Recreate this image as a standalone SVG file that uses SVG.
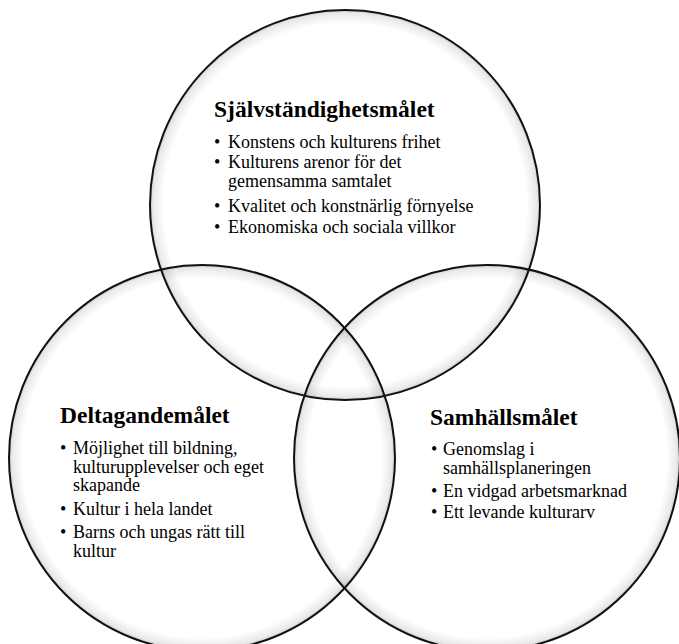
<svg xmlns="http://www.w3.org/2000/svg" width="679" height="644" viewBox="0 0 679 644">
<defs>
<radialGradient id="glow" cx="50%" cy="50%" r="50%">
<stop offset="0" stop-color="#000" stop-opacity="0"/>
<stop offset="0.93" stop-color="#000" stop-opacity="0"/>
<stop offset="0.985" stop-color="#000" stop-opacity="0.09"/>
<stop offset="1" stop-color="#000" stop-opacity="0.22"/>
</radialGradient>
<style>
.c{fill:url(#glow);stroke:#111;stroke-width:2}
.t{font-family:"Liberation Serif","Times New Roman",serif;font-size:23.5px;font-weight:bold;fill:#000}
.i{font-family:"Liberation Serif","Times New Roman",serif;font-size:18px;fill:#000}
</style>
</defs>
<rect width="679" height="644" fill="#fff"/>
<g id="node-sjalvstandighet">
<circle class="c" cx="345" cy="205" r="195"/>
<text class="t" x="214" y="117">Självständighetsmålet</text>
<text class="i" y="148"><tspan x="214">•</tspan><tspan x="228">Konstens och kulturens frihet</tspan></text>
<text class="i" y="168"><tspan x="214">•</tspan><tspan x="228">Kulturens arenor för det</tspan><tspan x="228" dy="19">gemensamma samtalet</tspan></text>
<text class="i" y="212"><tspan x="214">•</tspan><tspan x="228">Kvalitet och konstnärlig förnyelse</tspan></text>
<text class="i" y="233"><tspan x="214">•</tspan><tspan x="228">Ekonomiska och sociala villkor</tspan></text>
</g>
<g id="node-deltagande">
<circle class="c" cx="202" cy="458" r="193"/>
<text class="t" x="60" y="423">Deltagandemålet</text>
<text class="i" y="454"><tspan x="60">•</tspan><tspan x="73">Möjlighet till bildning,</tspan><tspan x="73" dy="18.5">kulturupplevelser och eget</tspan><tspan x="73" dy="18.5">skapande</tspan></text>
<text class="i" y="515"><tspan x="60">•</tspan><tspan x="73">Kultur i hela landet</tspan></text>
<text class="i" y="538"><tspan x="60">•</tspan><tspan x="73">Barns och ungas rätt till</tspan><tspan x="73" dy="18.5">kultur</tspan></text>
</g>
<g id="node-samhalle">
<circle class="c" cx="487" cy="458" r="193"/>
<text class="t" x="430" y="425">Samhällsmålet</text>
<text class="i" y="455"><tspan x="431">•</tspan><tspan x="443">Genomslag i</tspan><tspan x="443" dy="18.5">samhällsplaneringen</tspan></text>
<text class="i" y="497"><tspan x="431">•</tspan><tspan x="443">En vidgad arbetsmarknad</tspan></text>
<text class="i" y="518"><tspan x="431">•</tspan><tspan x="443">Ett levande kulturarv</tspan></text>
</g>
</svg>
